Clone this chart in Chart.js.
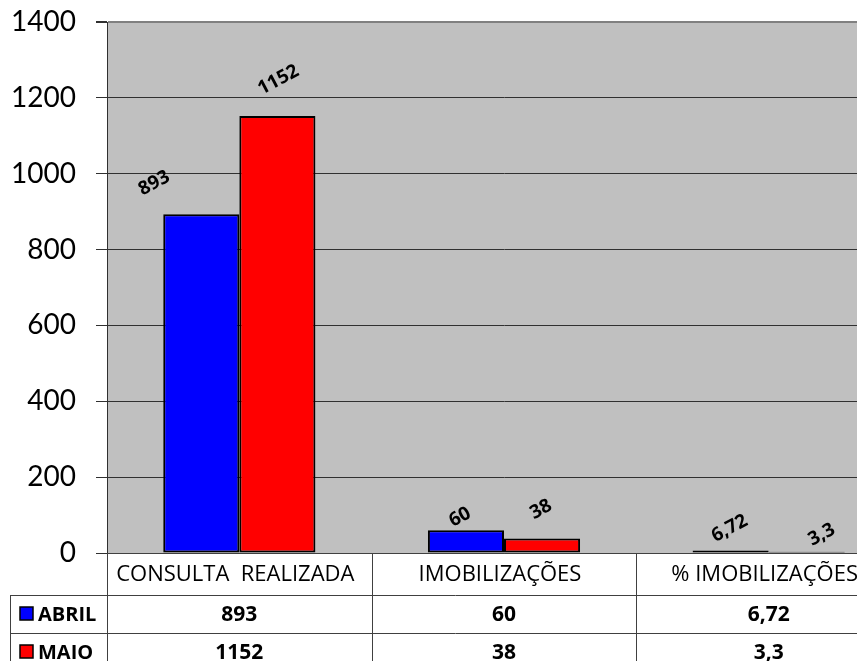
<!DOCTYPE html>
<html>
<head>
<meta charset="utf-8">
<script src="https://cdn.jsdelivr.net/npm/chart.js@4/dist/chart.umd.min.js"></script>
<style>
html,body{margin:0;padding:0;background:#fff;overflow:hidden;}
#wrap{width:901px;height:661px;}
</style>
</head>
<body>
<div id="wrap"><canvas id="c" width="901" height="661"></canvas></div>
<script>
const categories = ['CONSULTA  REALIZADA', 'IMOBILIZAÇÕES', '% IMOBILIZAÇÕES'];
const seriesNames = ['ABRIL', 'MAIO'];
const abril = [893, 60, 6.72];
const maio = [1152, 38, 3.3];
const yTicks = [0, 200, 400, 600, 800, 1000, 1200, 1400];

const fmt = v => String(v).replace('.', ',');
const FONT = 'Lato, "Open Sans", sans-serif';
const TFONT = '"Open Sans", Lato, sans-serif';

// label placement offsets (style only): [dx, dy] relative to bar top-centre
const labelOffsets = [
  [[-47, -31], [-6, -13], [-1, -22]],
  [[1, -36], [-1, -29], [15, -17]]
];

const bgPlugin = {
  id: 'bg',
  beforeDraw(chart) {
    const {ctx, chartArea: a} = chart;
    ctx.save();
    ctx.fillStyle = '#C0C0C0';
    ctx.fillRect(a.left, a.top, a.right - a.left, a.bottom - a.top);
    ctx.restore();
  }
};

const labelPlugin = {
  id: 'labels',
  afterDatasetsDraw(chart) {
    const ctx = chart.ctx;
    ctx.save();
    ctx.font = 'bold 19px ' + TFONT;
    ctx.fillStyle = '#000';
    ctx.textAlign = 'center';
    ctx.textBaseline = 'middle';
    chart.data.datasets.forEach((ds, di) => {
      const meta = chart.getDatasetMeta(di);
      meta.data.forEach((bar, i) => {
        const off = labelOffsets[di][i];
        ctx.save();
        ctx.translate(bar.x + off[0], bar.y + off[1]);
        ctx.rotate(-28 * Math.PI / 180);
        ctx.fillText(fmt(ds.data[i]), 0, 0);
        ctx.restore();
      });
    });
    ctx.restore();
  }
};

const tablePlugin = {
  id: 'table',
  afterDraw(chart) {
    const ctx = chart.ctx;
    const a = chart.chartArea;
    const xs = chart.scales.x;
    const n = categories.length;
    const colW = (a.right - a.left) / n;
    const rowTop = [a.bottom + 42, a.bottom + 80];
    const rowH = 38;
    const tblLeft = 10;
    ctx.save();
    ctx.strokeStyle = '#404040';
    ctx.lineWidth = 1;
    ctx.beginPath();
    rowTop.forEach(y => {
      ctx.moveTo(tblLeft, Math.round(y) + 0.5);
      ctx.lineTo(a.right, Math.round(y) + 0.5);
    });
    for (let k = 0; k <= n; k++) {
      const x = Math.round(a.left + k * colW) + 0.5;
      ctx.moveTo(x, a.bottom);
      ctx.lineTo(x, chart.height);
    }
    ctx.moveTo(tblLeft + 0.5, rowTop[0]);
    ctx.lineTo(tblLeft + 0.5, chart.height);
    ctx.stroke();

    // header row (category names)
    ctx.fillStyle = '#000';
    ctx.font = '22px ' + TFONT;
    ctx.textAlign = 'center';
    ctx.textBaseline = 'middle';
    categories.forEach((c, i) => {
      ctx.fillText(c, xs.getPixelForValue(i) - 4, a.bottom + 22);
    });

    const colors = chart.data.datasets.map(d => d.backgroundColor);
    chart.data.datasets.forEach((ds, di) => {
      const cy = rowTop[di] + rowH / 2;
      ctx.fillStyle = colors[di];
      ctx.fillRect(20, cy - 7, 13, 13);
      ctx.strokeStyle = '#000';
      ctx.lineWidth = 1.5;
      ctx.strokeRect(20, cy - 7, 13, 13);
      ctx.fillStyle = '#000';
      ctx.font = 'bold 20px ' + TFONT;
      ctx.textAlign = 'left';
      ctx.textBaseline = 'middle';
      ctx.fillText(ds.label, 38, cy + 1);
      ctx.textAlign = 'center';
      ctx.font = 'bold 21px ' + TFONT;
      ds.data.forEach((v, i) => {
        ctx.fillText(fmt(v), xs.getPixelForValue(i), cy + 1);
      });
    });
    ctx.restore();
  }
};

new Chart(document.getElementById('c'), {
  type: 'bar',
  data: {
    labels: categories,
    datasets: [
      { label: seriesNames[0], data: abril, backgroundColor: '#0000FF', borderColor: '#000', borderWidth: 2, borderSkipped: false },
      { label: seriesNames[1], data: maio, backgroundColor: '#FF0000', borderColor: '#000', borderWidth: 2, borderSkipped: false }
    ]
  },
  options: {
    responsive: false,
    animation: false,
    events: [],
    layout: { padding: { left: 0, right: 0, top: 22, bottom: 0 } },
    datasets: { bar: { categoryPercentage: 0.575, barPercentage: 1.0 } },
    plugins: { legend: { display: false }, tooltip: { enabled: false } },
    scales: {
      x: {
        grid: { display: false, drawTicks: false },
        border: { display: true, color: '#404040', width: 1 },
        ticks: { display: false },
        afterFit(s) { s.height = 108; }
      },
      y: {
        min: 0, max: 1400,
        afterBuildTicks(s) { s.ticks = yTicks.map(v => ({ value: v })); },
        grid: {
          color: ctx => (ctx.tick && ctx.tick.value === 1400) ? '#808080' : '#303030',
          lineWidth: ctx => (ctx.tick && ctx.tick.value === 1400) ? 2 : 1,
          tickLength: 11,
          tickColor: '#303030'
        },
        border: { display: true, color: '#303030', width: 1 },
        ticks: { color: '#000', font: { family: FONT, size: 28 }, padding: 20, callback: v => String(v) },
        afterFit(s) { s.width = 107; s.paddingTop = 0; s.paddingBottom = 0; }
      }
    }
  },
  plugins: [bgPlugin, labelPlugin, tablePlugin]
});
</script>
</body>
</html>
